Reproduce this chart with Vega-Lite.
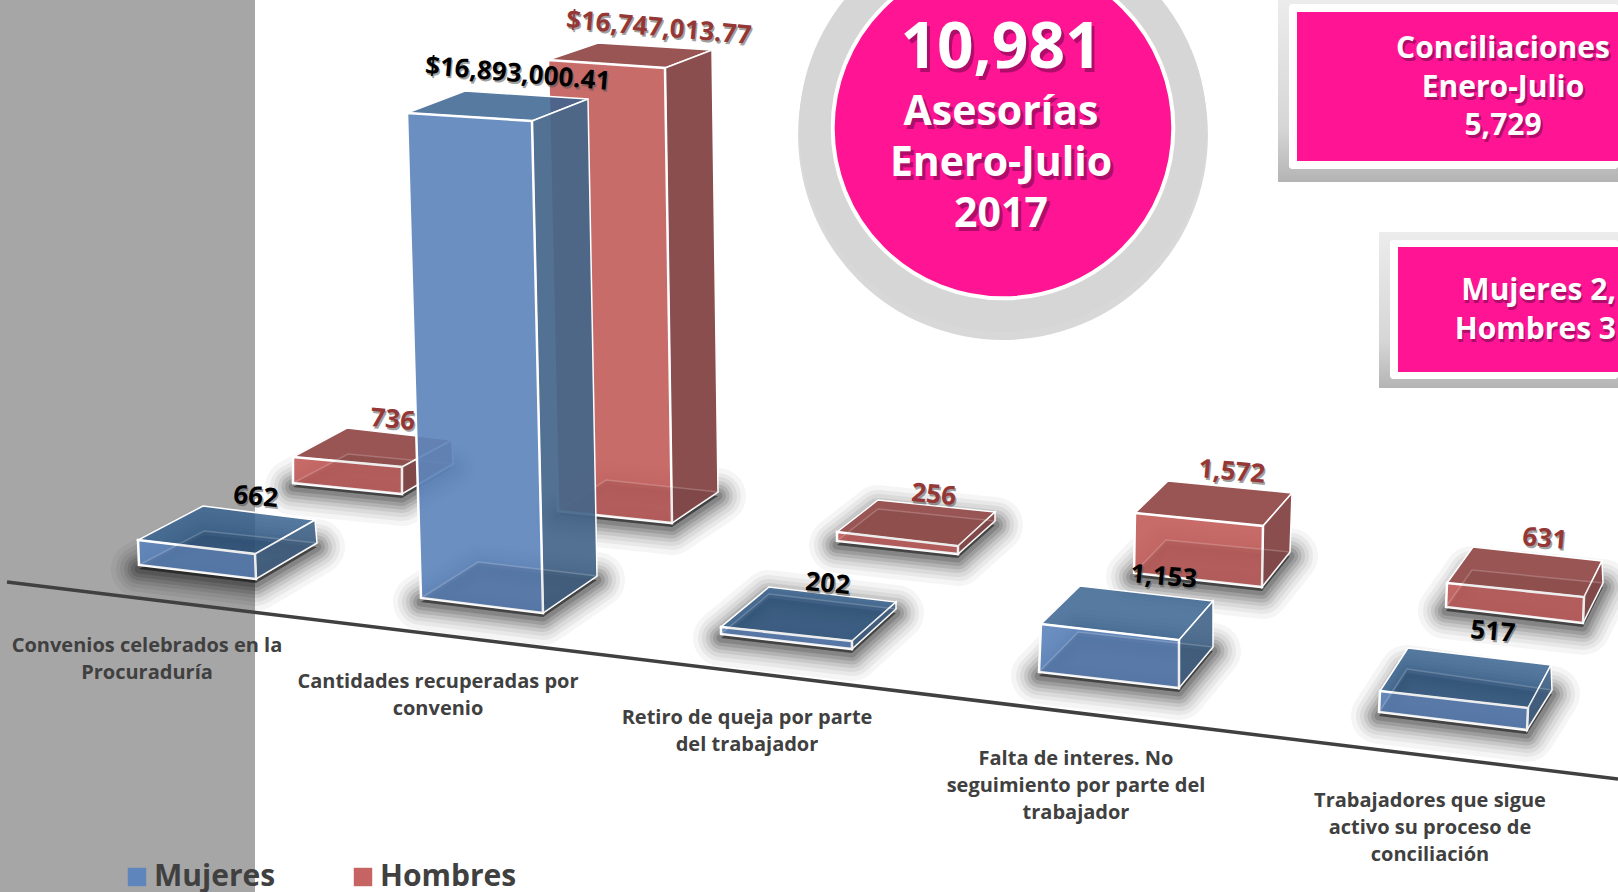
{
"$schema":"https://vega.github.io/schema/vega-lite/v6.json",
"width":1618,"height":892,"padding":0,"autosize":{"type":"none"},"background":"white",
"config":{"view":{"stroke":null},"axis":{"disable":true},"font":"Open Sans"},
"datasets":{
"caras":[
{"barra":"R1","serie":"Hombres","cara":"suelo","x":293,"y":483},{"barra":"R1","serie":"Hombres","cara":"suelo","x":402,"y":494},{"barra":"R1","serie":"Hombres","cara":"suelo","x":453,"y":464},{"barra":"R1","serie":"Hombres","cara":"suelo","x":348,"y":454},
{"barra":"R1","serie":"Hombres","cara":"techo","x":293,"y":457},{"barra":"R1","serie":"Hombres","cara":"techo","x":402,"y":467},{"barra":"R1","serie":"Hombres","cara":"techo","x":452,"y":440},{"barra":"R1","serie":"Hombres","cara":"techo","x":347,"y":428},
{"barra":"R1","serie":"Hombres","cara":"lado","x":402,"y":467},{"barra":"R1","serie":"Hombres","cara":"lado","x":452,"y":440},{"barra":"R1","serie":"Hombres","cara":"lado","x":453,"y":464},{"barra":"R1","serie":"Hombres","cara":"lado","x":402,"y":494},
{"barra":"R1","serie":"Hombres","cara":"frente","x":293,"y":457},{"barra":"R1","serie":"Hombres","cara":"frente","x":402,"y":467},{"barra":"R1","serie":"Hombres","cara":"frente","x":402,"y":494},{"barra":"R1","serie":"Hombres","cara":"frente","x":293,"y":483},

{"barra":"R2","serie":"Hombres","cara":"suelo","x":558,"y":511},{"barra":"R2","serie":"Hombres","cara":"suelo","x":672,"y":523},{"barra":"R2","serie":"Hombres","cara":"suelo","x":718,"y":492},{"barra":"R2","serie":"Hombres","cara":"suelo","x":606,"y":480},
{"barra":"R2","serie":"Hombres","cara":"techo","x":548,"y":60},{"barra":"R2","serie":"Hombres","cara":"techo","x":665,"y":68},{"barra":"R2","serie":"Hombres","cara":"techo","x":712,"y":50},{"barra":"R2","serie":"Hombres","cara":"techo","x":598,"y":43},
{"barra":"R2","serie":"Hombres","cara":"lado","x":665,"y":68},{"barra":"R2","serie":"Hombres","cara":"lado","x":712,"y":50},{"barra":"R2","serie":"Hombres","cara":"lado","x":718,"y":492},{"barra":"R2","serie":"Hombres","cara":"lado","x":672,"y":523},
{"barra":"R2","serie":"Hombres","cara":"frente","x":548,"y":60},{"barra":"R2","serie":"Hombres","cara":"frente","x":665,"y":68},{"barra":"R2","serie":"Hombres","cara":"frente","x":672,"y":523},{"barra":"R2","serie":"Hombres","cara":"frente","x":558,"y":511},

{"barra":"R3","serie":"Hombres","cara":"suelo","x":837,"y":541},{"barra":"R3","serie":"Hombres","cara":"suelo","x":958,"y":554},{"barra":"R3","serie":"Hombres","cara":"suelo","x":995,"y":521},{"barra":"R3","serie":"Hombres","cara":"suelo","x":878,"y":509},
{"barra":"R3","serie":"Hombres","cara":"techo","x":837,"y":532},{"barra":"R3","serie":"Hombres","cara":"techo","x":958,"y":546},{"barra":"R3","serie":"Hombres","cara":"techo","x":995,"y":512},{"barra":"R3","serie":"Hombres","cara":"techo","x":878,"y":500},
{"barra":"R3","serie":"Hombres","cara":"lado","x":958,"y":546},{"barra":"R3","serie":"Hombres","cara":"lado","x":995,"y":512},{"barra":"R3","serie":"Hombres","cara":"lado","x":995,"y":521},{"barra":"R3","serie":"Hombres","cara":"lado","x":958,"y":554},
{"barra":"R3","serie":"Hombres","cara":"frente","x":837,"y":532},{"barra":"R3","serie":"Hombres","cara":"frente","x":958,"y":546},{"barra":"R3","serie":"Hombres","cara":"frente","x":958,"y":554},{"barra":"R3","serie":"Hombres","cara":"frente","x":837,"y":541},

{"barra":"R4","serie":"Hombres","cara":"suelo","x":1134,"y":573},{"barra":"R4","serie":"Hombres","cara":"suelo","x":1262,"y":587},{"barra":"R4","serie":"Hombres","cara":"suelo","x":1290,"y":552},{"barra":"R4","serie":"Hombres","cara":"suelo","x":1166,"y":540},
{"barra":"R4","serie":"Hombres","cara":"techo","x":1135,"y":513},{"barra":"R4","serie":"Hombres","cara":"techo","x":1263,"y":526},{"barra":"R4","serie":"Hombres","cara":"techo","x":1292,"y":493},{"barra":"R4","serie":"Hombres","cara":"techo","x":1168,"y":481},
{"barra":"R4","serie":"Hombres","cara":"lado","x":1263,"y":526},{"barra":"R4","serie":"Hombres","cara":"lado","x":1292,"y":493},{"barra":"R4","serie":"Hombres","cara":"lado","x":1290,"y":552},{"barra":"R4","serie":"Hombres","cara":"lado","x":1262,"y":587},
{"barra":"R4","serie":"Hombres","cara":"frente","x":1135,"y":513},{"barra":"R4","serie":"Hombres","cara":"frente","x":1263,"y":526},{"barra":"R4","serie":"Hombres","cara":"frente","x":1262,"y":587},{"barra":"R4","serie":"Hombres","cara":"frente","x":1134,"y":573},

{"barra":"R5","serie":"Hombres","cara":"suelo","x":1446,"y":607},{"barra":"R5","serie":"Hombres","cara":"suelo","x":1583,"y":623},{"barra":"R5","serie":"Hombres","cara":"suelo","x":1603,"y":583},{"barra":"R5","serie":"Hombres","cara":"suelo","x":1472,"y":570},
{"barra":"R5","serie":"Hombres","cara":"techo","x":1447,"y":583},{"barra":"R5","serie":"Hombres","cara":"techo","x":1584,"y":597},{"barra":"R5","serie":"Hombres","cara":"techo","x":1602,"y":561},{"barra":"R5","serie":"Hombres","cara":"techo","x":1473,"y":547},
{"barra":"R5","serie":"Hombres","cara":"lado","x":1584,"y":597},{"barra":"R5","serie":"Hombres","cara":"lado","x":1602,"y":561},{"barra":"R5","serie":"Hombres","cara":"lado","x":1603,"y":583},{"barra":"R5","serie":"Hombres","cara":"lado","x":1583,"y":623},
{"barra":"R5","serie":"Hombres","cara":"frente","x":1447,"y":583},{"barra":"R5","serie":"Hombres","cara":"frente","x":1584,"y":597},{"barra":"R5","serie":"Hombres","cara":"frente","x":1583,"y":623},{"barra":"R5","serie":"Hombres","cara":"frente","x":1446,"y":607},

{"barra":"B1","serie":"Mujeres","cara":"suelo","x":139,"y":565},{"barra":"B1","serie":"Mujeres","cara":"suelo","x":256,"y":579},{"barra":"B1","serie":"Mujeres","cara":"suelo","x":317,"y":543},{"barra":"B1","serie":"Mujeres","cara":"suelo","x":204,"y":531},
{"barra":"B1","serie":"Mujeres","cara":"techo","x":138,"y":540},{"barra":"B1","serie":"Mujeres","cara":"techo","x":255,"y":554},{"barra":"B1","serie":"Mujeres","cara":"techo","x":315,"y":520},{"barra":"B1","serie":"Mujeres","cara":"techo","x":203,"y":506},
{"barra":"B1","serie":"Mujeres","cara":"lado","x":255,"y":554},{"barra":"B1","serie":"Mujeres","cara":"lado","x":315,"y":520},{"barra":"B1","serie":"Mujeres","cara":"lado","x":317,"y":543},{"barra":"B1","serie":"Mujeres","cara":"lado","x":256,"y":579},
{"barra":"B1","serie":"Mujeres","cara":"frente","x":138,"y":540},{"barra":"B1","serie":"Mujeres","cara":"frente","x":255,"y":554},{"barra":"B1","serie":"Mujeres","cara":"frente","x":256,"y":579},{"barra":"B1","serie":"Mujeres","cara":"frente","x":139,"y":565},

{"barra":"B2","serie":"Mujeres","cara":"suelo","x":421,"y":598},{"barra":"B2","serie":"Mujeres","cara":"suelo","x":543,"y":613},{"barra":"B2","serie":"Mujeres","cara":"suelo","x":597,"y":576},{"barra":"B2","serie":"Mujeres","cara":"suelo","x":478,"y":562},
{"barra":"B2","serie":"Mujeres","cara":"techo","x":407,"y":113},{"barra":"B2","serie":"Mujeres","cara":"techo","x":532,"y":121},{"barra":"B2","serie":"Mujeres","cara":"techo","x":588,"y":99},{"barra":"B2","serie":"Mujeres","cara":"techo","x":465,"y":91},
{"barra":"B2","serie":"Mujeres","cara":"lado","x":532,"y":121},{"barra":"B2","serie":"Mujeres","cara":"lado","x":588,"y":99},{"barra":"B2","serie":"Mujeres","cara":"lado","x":597,"y":576},{"barra":"B2","serie":"Mujeres","cara":"lado","x":543,"y":613},
{"barra":"B2","serie":"Mujeres","cara":"frente","x":407,"y":113},{"barra":"B2","serie":"Mujeres","cara":"frente","x":532,"y":121},{"barra":"B2","serie":"Mujeres","cara":"frente","x":543,"y":613},{"barra":"B2","serie":"Mujeres","cara":"frente","x":421,"y":598},

{"barra":"B3","serie":"Mujeres","cara":"suelo","x":721,"y":634},{"barra":"B3","serie":"Mujeres","cara":"suelo","x":852,"y":649},{"barra":"B3","serie":"Mujeres","cara":"suelo","x":896,"y":609},{"barra":"B3","serie":"Mujeres","cara":"suelo","x":769,"y":594},
{"barra":"B3","serie":"Mujeres","cara":"techo","x":721,"y":627},{"barra":"B3","serie":"Mujeres","cara":"techo","x":852,"y":641},{"barra":"B3","serie":"Mujeres","cara":"techo","x":896,"y":602},{"barra":"B3","serie":"Mujeres","cara":"techo","x":769,"y":587},
{"barra":"B3","serie":"Mujeres","cara":"lado","x":852,"y":641},{"barra":"B3","serie":"Mujeres","cara":"lado","x":896,"y":602},{"barra":"B3","serie":"Mujeres","cara":"lado","x":896,"y":609},{"barra":"B3","serie":"Mujeres","cara":"lado","x":852,"y":649},
{"barra":"B3","serie":"Mujeres","cara":"frente","x":721,"y":627},{"barra":"B3","serie":"Mujeres","cara":"frente","x":852,"y":641},{"barra":"B3","serie":"Mujeres","cara":"frente","x":852,"y":649},{"barra":"B3","serie":"Mujeres","cara":"frente","x":721,"y":634},

{"barra":"B4","serie":"Mujeres","cara":"suelo","x":1039,"y":672},{"barra":"B4","serie":"Mujeres","cara":"suelo","x":1179,"y":688},{"barra":"B4","serie":"Mujeres","cara":"suelo","x":1213,"y":647},{"barra":"B4","serie":"Mujeres","cara":"suelo","x":1078,"y":632},
{"barra":"B4","serie":"Mujeres","cara":"techo","x":1041,"y":624},{"barra":"B4","serie":"Mujeres","cara":"techo","x":1179,"y":640},{"barra":"B4","serie":"Mujeres","cara":"techo","x":1213,"y":601},{"barra":"B4","serie":"Mujeres","cara":"techo","x":1080,"y":586},
{"barra":"B4","serie":"Mujeres","cara":"lado","x":1179,"y":640},{"barra":"B4","serie":"Mujeres","cara":"lado","x":1213,"y":601},{"barra":"B4","serie":"Mujeres","cara":"lado","x":1213,"y":647},{"barra":"B4","serie":"Mujeres","cara":"lado","x":1179,"y":688},
{"barra":"B4","serie":"Mujeres","cara":"frente","x":1041,"y":624},{"barra":"B4","serie":"Mujeres","cara":"frente","x":1179,"y":640},{"barra":"B4","serie":"Mujeres","cara":"frente","x":1179,"y":688},{"barra":"B4","serie":"Mujeres","cara":"frente","x":1039,"y":672},

{"barra":"B5","serie":"Mujeres","cara":"suelo","x":1379,"y":712},{"barra":"B5","serie":"Mujeres","cara":"suelo","x":1527,"y":730},{"barra":"B5","serie":"Mujeres","cara":"suelo","x":1552,"y":690},{"barra":"B5","serie":"Mujeres","cara":"suelo","x":1407,"y":669},
{"barra":"B5","serie":"Mujeres","cara":"techo","x":1380,"y":691},{"barra":"B5","serie":"Mujeres","cara":"techo","x":1528,"y":708},{"barra":"B5","serie":"Mujeres","cara":"techo","x":1551,"y":665},{"barra":"B5","serie":"Mujeres","cara":"techo","x":1408,"y":648},
{"barra":"B5","serie":"Mujeres","cara":"lado","x":1528,"y":708},{"barra":"B5","serie":"Mujeres","cara":"lado","x":1551,"y":665},{"barra":"B5","serie":"Mujeres","cara":"lado","x":1552,"y":690},{"barra":"B5","serie":"Mujeres","cara":"lado","x":1527,"y":730},
{"barra":"B5","serie":"Mujeres","cara":"frente","x":1380,"y":691},{"barra":"B5","serie":"Mujeres","cara":"frente","x":1528,"y":708},{"barra":"B5","serie":"Mujeres","cara":"frente","x":1527,"y":730},{"barra":"B5","serie":"Mujeres","cara":"frente","x":1379,"y":712}
],
"valores":[
{"categoria":"Convenios celebrados en la Procuraduría","serie":"Mujeres","valor":662,"etiqueta":"662","x":255,"y":505},
{"categoria":"Convenios celebrados en la Procuraduría","serie":"Hombres","valor":736,"etiqueta":"736","x":392,"y":428},
{"categoria":"Cantidades recuperadas por convenio","serie":"Mujeres","valor":16893000.41,"etiqueta":"$16,893,000.41","x":517,"y":82},
{"categoria":"Cantidades recuperadas por convenio","serie":"Hombres","valor":16747013.77,"etiqueta":"$16,747,013.77","x":658,"y":36},
{"categoria":"Retiro de queja por parte del trabajador","serie":"Mujeres","valor":202,"etiqueta":"202","x":827,"y":592},
{"categoria":"Retiro de queja por parte del trabajador","serie":"Hombres","valor":256,"etiqueta":"256","x":933,"y":503},
{"categoria":"Falta de interes. No seguimiento por parte del trabajador","serie":"Mujeres","valor":1153,"etiqueta":"1,153","x":1163,"y":585},
{"categoria":"Falta de interes. No seguimiento por parte del trabajador","serie":"Hombres","valor":1572,"etiqueta":"1,572","x":1231,"y":480},
{"categoria":"Trabajadores que sigue activo su proceso de conciliación","serie":"Mujeres","valor":517,"etiqueta":"517","x":1492,"y":640},
{"categoria":"Trabajadores que sigue activo su proceso de conciliación","serie":"Hombres","valor":631,"etiqueta":"631","x":1544,"y":547}
],
"categorias":[
{"categoria":"Convenios celebrados en la\nProcuraduría","x":147,"y":652},
{"categoria":"Cantidades recuperadas por\nconvenio","x":438,"y":688},
{"categoria":"Retiro de queja por parte\ndel trabajador","x":747,"y":724},
{"categoria":"Falta de interes. No\nseguimiento por parte del\ntrabajador","x":1076,"y":765},
{"categoria":"Trabajadores que sigue\nactivo su proceso de\nconciliación","x":1430,"y":807}
]
},
"layer":[
{"data":{"values":[{"forma":"panel"}]},"mark":{"type":"rect","color":"#a6a6a6"},"encoding":{"x":{"datum":0,"type":"quantitative"},"x2":{"datum":255},"y":{"datum":0,"type":"quantitative"},"y2":{"datum":892}}},

{"data":{"name":"caras"},"transform":[{"filter":"datum.cara==='suelo'"}],"mark":{"type":"line","interpolate":"linear-closed","stroke":"black","strokeWidth":56,"strokeJoin":"round","strokeOpacity":0.04,"fill":"black","fillOpacity":0.04,"yOffset":4},"encoding":{"x":{"field":"x","type":"quantitative","scale":{"domain":[0,1618],"range":[0,1618],"zero":false,"nice":false}},"y":{"field":"y","type":"quantitative","scale":{"domain":[0,892],"range":[0,892],"zero":false,"nice":false}},"detail":{"field":"barra"},"order":{"value":null}}},
{"data":{"name":"caras"},"transform":[{"filter":"datum.cara==='suelo'"}],"mark":{"type":"line","interpolate":"linear-closed","stroke":"black","strokeWidth":46,"strokeJoin":"round","strokeOpacity":0.05,"fill":"black","fillOpacity":0.05,"yOffset":4},"encoding":{"x":{"field":"x","type":"quantitative"},"y":{"field":"y","type":"quantitative"},"detail":{"field":"barra"},"order":{"value":null}}},
{"data":{"name":"caras"},"transform":[{"filter":"datum.cara==='suelo'"}],"mark":{"type":"line","interpolate":"linear-closed","stroke":"black","strokeWidth":38,"strokeJoin":"round","strokeOpacity":0.06,"fill":"black","fillOpacity":0.06,"yOffset":4},"encoding":{"x":{"field":"x","type":"quantitative"},"y":{"field":"y","type":"quantitative"},"detail":{"field":"barra"},"order":{"value":null}}},
{"data":{"name":"caras"},"transform":[{"filter":"datum.cara==='suelo'"}],"mark":{"type":"line","interpolate":"linear-closed","stroke":"black","strokeWidth":30,"strokeJoin":"round","strokeOpacity":0.08,"fill":"black","fillOpacity":0.08,"yOffset":4},"encoding":{"x":{"field":"x","type":"quantitative"},"y":{"field":"y","type":"quantitative"},"detail":{"field":"barra"},"order":{"value":null}}},
{"data":{"name":"caras"},"transform":[{"filter":"datum.cara==='suelo'"}],"mark":{"type":"line","interpolate":"linear-closed","stroke":"black","strokeWidth":23,"strokeJoin":"round","strokeOpacity":0.1,"fill":"black","fillOpacity":0.1,"yOffset":4},"encoding":{"x":{"field":"x","type":"quantitative"},"y":{"field":"y","type":"quantitative"},"detail":{"field":"barra"},"order":{"value":null}}},
{"data":{"name":"caras"},"transform":[{"filter":"datum.cara==='suelo'"}],"mark":{"type":"line","interpolate":"linear-closed","stroke":"black","strokeWidth":16,"strokeJoin":"round","strokeOpacity":0.12,"fill":"black","fillOpacity":0.12,"yOffset":4},"encoding":{"x":{"field":"x","type":"quantitative"},"y":{"field":"y","type":"quantitative"},"detail":{"field":"barra"},"order":{"value":null}}},
{"data":{"name":"caras"},"transform":[{"filter":"datum.cara==='suelo'"}],"mark":{"type":"line","interpolate":"linear-closed","stroke":"black","strokeWidth":9,"strokeJoin":"round","strokeOpacity":0.15,"fill":"black","fillOpacity":0.15,"yOffset":4},"encoding":{"x":{"field":"x","type":"quantitative"},"y":{"field":"y","type":"quantitative"},"detail":{"field":"barra"},"order":{"value":null}}},

{"data":{"values":[{"forma":"sombra anillo"}]},"mark":{"type":"point","filled":true,"shape":"circle","size":168000,"color":"#a8a8a8","opacity":0.45},"encoding":{"x":{"datum":1003,"type":"quantitative"},"y":{"datum":135,"type":"quantitative"}}},
{"data":{"values":[{"forma":"anillo"}]},"mark":{"type":"point","filled":true,"shape":"circle","size":166464,"color":"#d6d6d6","opacity":1},"encoding":{"x":{"datum":1003,"type":"quantitative"},"y":{"datum":128,"type":"quantitative"}}},
{"data":{"values":[{"forma":"circulo"}]},"mark":{"type":"point","filled":true,"shape":"circle","size":116000,"color":"#ff1493","stroke":"white","strokeWidth":4,"opacity":1},"encoding":{"x":{"datum":1003,"type":"quantitative"},"y":{"datum":128,"type":"quantitative"}}},

{"data":{"values":[{"forma":"marco 1"}]},"mark":{"type":"rect","fill":{"gradient":"linear","x1":0,"y1":0,"x2":0,"y2":1,"stops":[{"offset":0,"color":"#ececec"},{"offset":0.7,"color":"#d6d6d6"},{"offset":1,"color":"#b4b4b4"}]}},"encoding":{"x":{"datum":1278,"type":"quantitative"},"x2":{"datum":1618},"y":{"datum":0,"type":"quantitative"},"y2":{"datum":182}}},
{"data":{"values":[{"forma":"borde 1"}]},"mark":{"type":"rect","color":"white","cornerRadius":3},"encoding":{"x":{"datum":1289,"type":"quantitative"},"x2":{"datum":1618},"y":{"datum":4,"type":"quantitative"},"y2":{"datum":169}}},
{"data":{"values":[{"forma":"caja 1"}]},"mark":{"type":"rect","color":"#ff1493"},"encoding":{"x":{"datum":1297,"type":"quantitative"},"x2":{"datum":1618},"y":{"datum":12,"type":"quantitative"},"y2":{"datum":161}}},
{"data":{"values":[{"forma":"marco 2"}]},"mark":{"type":"rect","fill":{"gradient":"linear","x1":0,"y1":0,"x2":0,"y2":1,"stops":[{"offset":0,"color":"#ececec"},{"offset":0.7,"color":"#d6d6d6"},{"offset":1,"color":"#b4b4b4"}]}},"encoding":{"x":{"datum":1379,"type":"quantitative"},"x2":{"datum":1618},"y":{"datum":232,"type":"quantitative"},"y2":{"datum":388}}},
{"data":{"values":[{"forma":"borde 2"}]},"mark":{"type":"rect","color":"white","cornerRadius":3},"encoding":{"x":{"datum":1390,"type":"quantitative"},"x2":{"datum":1618},"y":{"datum":240,"type":"quantitative"},"y2":{"datum":379}}},
{"data":{"values":[{"forma":"caja 2"}]},"mark":{"type":"rect","color":"#ff1493"},"encoding":{"x":{"datum":1398,"type":"quantitative"},"x2":{"datum":1618},"y":{"datum":247,"type":"quantitative"},"y2":{"datum":372}}},

{"data":{"values":[{"texto":"10,981"}]},"mark":{"type":"text","font":"Open Sans","fontWeight":"bold","fontSize":64,"align":"center","baseline":"alphabetic","fill":"#7a0a50","opacity":0.6,"dx":3,"dy":4},"encoding":{"x":{"datum":1001,"type":"quantitative"},"y":{"datum":68,"type":"quantitative"},"text":{"field":"texto"}}},
{"data":{"values":[{"texto":"10,981"}]},"mark":{"type":"text","font":"Open Sans","fontWeight":"bold","fontSize":64,"align":"center","baseline":"alphabetic","fill":"white"},"encoding":{"x":{"datum":1001,"type":"quantitative"},"y":{"datum":68,"type":"quantitative"},"text":{"field":"texto"}}},
{"data":{"values":[{"texto":"Asesorías\nEnero-Julio\n2017"}]},"mark":{"type":"text","font":"Open Sans","fontWeight":"bold","fontSize":41,"lineBreak":"\n","lineHeight":51,"align":"center","baseline":"alphabetic","fill":"#7a0a50","opacity":0.6,"dx":3,"dy":4},"encoding":{"x":{"datum":1001,"type":"quantitative"},"y":{"datum":125,"type":"quantitative"},"text":{"field":"texto"}}},
{"data":{"values":[{"texto":"Asesorías\nEnero-Julio\n2017"}]},"mark":{"type":"text","font":"Open Sans","fontWeight":"bold","fontSize":41,"lineBreak":"\n","lineHeight":51,"align":"center","baseline":"alphabetic","fill":"white"},"encoding":{"x":{"datum":1001,"type":"quantitative"},"y":{"datum":125,"type":"quantitative"},"text":{"field":"texto"}}},
{"data":{"values":[{"texto":"Conciliaciones\nEnero-Julio\n5,729"}]},"mark":{"type":"text","font":"Open Sans","fontWeight":"bold","fontSize":30,"lineBreak":"\n","lineHeight":38.5,"align":"center","baseline":"alphabetic","fill":"#7a0a50","opacity":0.6,"dx":2,"dy":3},"encoding":{"x":{"datum":1503,"type":"quantitative"},"y":{"datum":58,"type":"quantitative"},"text":{"field":"texto"}}},
{"data":{"values":[{"texto":"Conciliaciones\nEnero-Julio\n5,729"}]},"mark":{"type":"text","font":"Open Sans","fontWeight":"bold","fontSize":30,"lineBreak":"\n","lineHeight":38.5,"align":"center","baseline":"alphabetic","fill":"white"},"encoding":{"x":{"datum":1503,"type":"quantitative"},"y":{"datum":58,"type":"quantitative"},"text":{"field":"texto"}}},
{"data":{"values":[{"texto":"Mujeres 2,\nHombres 3"}]},"mark":{"type":"text","font":"Open Sans","fontWeight":"bold","fontSize":30,"lineBreak":"\n","lineHeight":39,"align":"right","baseline":"alphabetic","fill":"#7a0a50","opacity":0.6,"dx":1,"dy":3},"encoding":{"x":{"datum":1616,"type":"quantitative"},"y":{"datum":300,"type":"quantitative"},"text":{"field":"texto"}}},
{"data":{"values":[{"texto":"Mujeres 2,\nHombres 3"}]},"mark":{"type":"text","font":"Open Sans","fontWeight":"bold","fontSize":30,"lineBreak":"\n","lineHeight":39,"align":"right","baseline":"alphabetic","fill":"white"},"encoding":{"x":{"datum":1616,"type":"quantitative"},"y":{"datum":300,"type":"quantitative"},"text":{"field":"texto"}}},

{"data":{"name":"caras"},"transform":[{"filter":"datum.serie==='Hombres' && datum.cara==='techo'"}],"mark":{"type":"line","interpolate":"linear-closed","fill":"#995553","stroke":"white","strokeWidth":1.5},"encoding":{"x":{"field":"x","type":"quantitative"},"y":{"field":"y","type":"quantitative"},"detail":{"field":"barra"},"order":{"value":null}}},
{"data":{"name":"caras"},"transform":[{"filter":"datum.serie==='Hombres' && datum.cara==='lado'"}],"mark":{"type":"line","interpolate":"linear-closed","fill":"#8b4e4f","stroke":"white","strokeWidth":1.5},"encoding":{"x":{"field":"x","type":"quantitative"},"y":{"field":"y","type":"quantitative"},"detail":{"field":"barra"},"order":{"value":null}}},
{"data":{"name":"caras"},"transform":[{"filter":"datum.serie==='Hombres' && datum.cara==='frente'"}],"mark":{"type":"line","interpolate":"linear-closed","stroke":"white","strokeWidth":2.5,"fillOpacity":0.95},"encoding":{"x":{"field":"x","type":"quantitative"},"y":{"field":"y","type":"quantitative"},"detail":{"field":"barra"},"order":{"value":null},"fill":{"field":"serie","type":"nominal","scale":{"domain":["Mujeres","Hombres"],"range":["#5e86bc","#c56462"]},"legend":{"title":null,"orient":"none","legendX":122,"legendY":862,"direction":"horizontal","symbolType":"square","symbolSize":340,"symbolStrokeWidth":0,"symbolOpacity":1,"labelFont":"Open Sans","labelFontSize":30,"labelFontWeight":"bold","labelColor":"#404040","columnPadding":72,"labelOffset":2,"labelLimit":300}}}},
{"data":{"name":"caras"},"transform":[{"filter":"datum.serie==='Hombres' && datum.cara==='suelo'"}],"mark":{"type":"line","interpolate":"linear-closed","fill":"black","fillOpacity":0.07,"stroke":"white","strokeOpacity":0.2,"strokeWidth":1.5},"encoding":{"x":{"field":"x","type":"quantitative"},"y":{"field":"y","type":"quantitative"},"detail":{"field":"barra"},"order":{"value":null}}},

{"data":{"name":"caras"},"transform":[{"filter":"datum.serie==='Mujeres' && datum.cara==='techo'"}],"mark":{"type":"line","interpolate":"linear-closed","fill":"#38638f","stroke":"white","strokeWidth":1.5,"fillOpacity":0.85},"encoding":{"x":{"field":"x","type":"quantitative"},"y":{"field":"y","type":"quantitative"},"detail":{"field":"barra"},"order":{"value":null}}},
{"data":{"name":"caras"},"transform":[{"filter":"datum.serie==='Mujeres' && datum.cara==='lado'"}],"mark":{"type":"line","interpolate":"linear-closed","fill":"#46668a","stroke":"white","strokeWidth":1.5,"fillOpacity":0.93},"encoding":{"x":{"field":"x","type":"quantitative"},"y":{"field":"y","type":"quantitative"},"detail":{"field":"barra"},"order":{"value":null}}},
{"data":{"name":"caras"},"transform":[{"filter":"datum.serie==='Mujeres' && datum.cara==='frente'"}],"mark":{"type":"line","interpolate":"linear-closed","stroke":"white","strokeWidth":2.5,"fillOpacity":0.92},"encoding":{"x":{"field":"x","type":"quantitative"},"y":{"field":"y","type":"quantitative"},"detail":{"field":"barra"},"order":{"value":null},"fill":{"field":"serie","type":"nominal","scale":{"domain":["Mujeres","Hombres"],"range":["#5e86bc","#c56462"]}}}},
{"data":{"name":"caras"},"transform":[{"filter":"datum.serie==='Mujeres' && datum.cara==='suelo'"}],"mark":{"type":"line","interpolate":"linear-closed","fill":"black","fillOpacity":0.07,"stroke":"white","strokeOpacity":0.2,"strokeWidth":1.5},"encoding":{"x":{"field":"x","type":"quantitative"},"y":{"field":"y","type":"quantitative"},"detail":{"field":"barra"},"order":{"value":null}}},

{"data":{"values":[{"forma":"eje"}]},"mark":{"type":"rule","color":"#404040","strokeWidth":3.5},"encoding":{"x":{"datum":7,"type":"quantitative"},"x2":{"datum":1618},"y":{"datum":582,"type":"quantitative"},"y2":{"datum":779}}},
{"data":{"name":"categorias"},"mark":{"type":"text","font":"Open Sans","fontWeight":"bold","fontSize":20,"lineBreak":"\n","lineHeight":27,"align":"center","baseline":"alphabetic","fill":"#404040"},"encoding":{"x":{"field":"x","type":"quantitative"},"y":{"field":"y","type":"quantitative"},"text":{"field":"categoria"}}},

{"data":{"name":"valores"},"mark":{"type":"text","font":"Open Sans","fontWeight":"bold","fontSize":26,"angle":5,"align":"center","baseline":"alphabetic","fill":"#555555","opacity":0.55,"dx":1.5,"dy":2},"encoding":{"x":{"field":"x","type":"quantitative"},"y":{"field":"y","type":"quantitative"},"text":{"field":"etiqueta"}}},
{"data":{"name":"valores"},"mark":{"type":"text","font":"Open Sans","fontWeight":"bold","fontSize":26,"angle":5,"align":"center","baseline":"alphabetic"},"encoding":{"x":{"field":"x","type":"quantitative"},"y":{"field":"y","type":"quantitative"},"text":{"field":"etiqueta"},"fill":{"condition":{"test":"datum.serie==='Mujeres'","value":"black"},"value":"#953735"}}}
]
}
